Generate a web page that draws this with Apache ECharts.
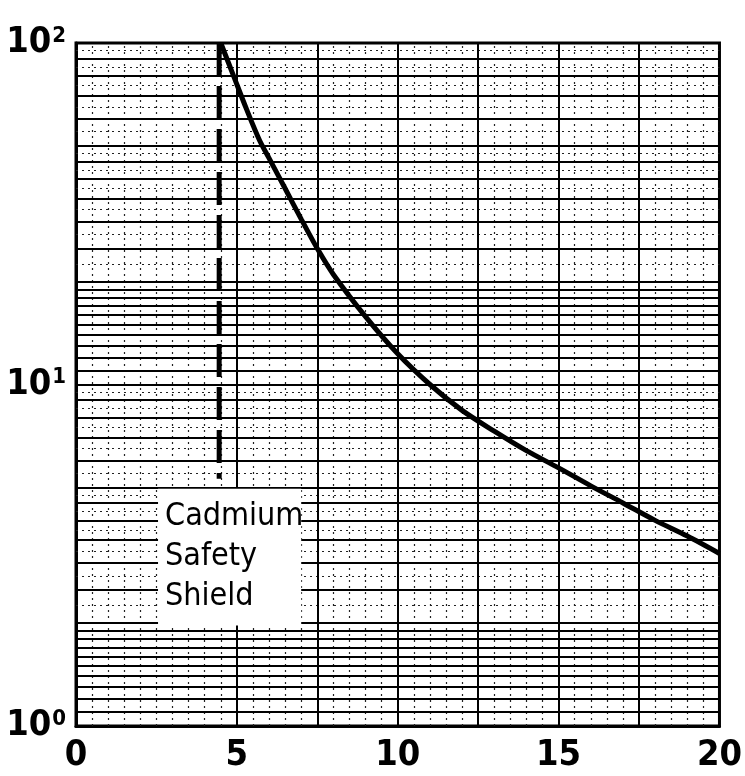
<!DOCTYPE html>
<html>
<head>
<meta charset="utf-8">
<script src="https://cdn.jsdelivr.net/npm/echarts@6/dist/echarts.min.js"></script>
<style>
html,body{margin:0;padding:0;background:#fff;}
#c{width:745px;height:776px;}
</style>
</head>
<body>
<div id="c"></div>
<script>
// ---- data ----
var curveX = [4.5, 4.9, 5.3, 5.7, 6, 6.5, 7, 7.5, 8, 9, 10, 11, 12, 13, 14, 15, 16, 17, 18, 19, 20];
var curveY = [100, 80, 64, 52, 46, 37.5, 30.5, 25, 21, 15.8, 12.3, 10, 8.4, 7.3, 6.4, 5.7, 5.05, 4.5, 4.0, 3.6, 3.2];
var shieldX = [4.45, 4.45];
var shieldY = [100, 5.3];
var xTicks = [0, 5, 10, 15, 20];
var yTicks = [1, 10, 100];
var yTickExp = ['0', '1', '2'];
var gridXSolid = [5, 7.5, 10, 12.5, 15, 17.5];
var gridXDotted = [0.5,1,1.5,2,2.5,3,3.5,4,4.5,5.5,6,6.5,7,8,8.5,9,9.5,10.5,11,11.5,12,13,13.5,14,14.5,15.5,16,16.5,17,18,18.5,19,19.5];
var gridYSolid = [1.1,1.2,1.3,1.4,1.5,1.6,1.7,1.8,1.9,2,2.5,3,3.5,4,4.5,5,6,7,8,9,10,
                  11,12,13,14,15,16,17,18,19,20,25,30,35,40,45,50,60,70,80,90];
var gridYDotted = [2.25,2.75,3.25,3.75,4.25,4.75,5.5,6.5,7.5,8.5,9.5,
                   22.5,27.5,32.5,37.5,42.5,47.5,55,65,75,85,95];
var noteLines = ['Cadmium', 'Safety', 'Shield'];
var noteBox = [[2.55, 4.95], [7.0, 1.97]];

var FONT = "'Liberation Sans Narrow','DejaVu Sans Condensed','Arial Narrow',sans-serif";

var chart = echarts.init(document.getElementById('c'), null, {renderer: 'canvas'});

function hLines(vals){ return vals.map(function(v){ return {yAxis: v}; }); }
function vLines(vals){ return vals.map(function(v){ return {xAxis: v}; }); }

var option = {
  animation: false,
  backgroundColor: '#fff',
  grid: {left: 76, right: 20, top: 43, bottom: 50, show: true, borderColor: '#000', borderWidth: 3, backgroundColor: '#fff'},
  xAxis: {
    type: 'value', min: 0, max: 20, interval: 5,
    axisLine: {show: true, lineStyle: {color: '#000', width: 3}},
    axisTick: {show: false},
    splitLine: {show: false},
    axisLabel: {color: '#000', fontFamily: FONT, fontWeight: 'bold', fontSize: 36, margin: 12,
      formatter: function(v){ return xTicks.indexOf(v) >= 0 ? String(v) : ''; }}
  },
  yAxis: {
    type: 'log', logBase: 10, min: 1, max: 100,
    axisLine: {show: true, lineStyle: {color: '#000', width: 3}},
    axisTick: {show: false},
    splitLine: {show: false},
    axisLabel: {
      margin: 10,
      formatter: function(v){
        var i = yTicks.indexOf(v);
        if (i < 0) return '';
        return '{b|10}{s|' + yTickExp[i] + '}';
      },
      rich: {
        b: {color: '#000', fontFamily: FONT, fontWeight: 'bold', fontSize: 36, verticalAlign: 'bottom'},
        s: {color: '#000', fontFamily: FONT, fontWeight: 'bold', fontSize: 22, verticalAlign: 'top', padding: [0,0,14,1]}
      }
    }
  },
  series: [
    {
      type: 'line', data: [], z: 1, silent: true,
      markLine: {silent: true, z: 1, symbol: ['none','none'], label: {show: false}, animation: false,
        lineStyle: {color: '#222', width: 1.2, type: [2, 4]},
        data: hLines(gridYDotted).concat(vLines(gridXDotted))}
    },
    {
      type: 'line', data: [], z: 2, silent: true,
      markLine: {silent: true, z: 2, symbol: ['none','none'], label: {show: false}, animation: false,
        lineStyle: {color: '#000', width: 2, type: 'solid'},
        data: hLines(gridYSolid).concat(vLines(gridXSolid))}
    },
    {
      type: 'line', data: [], z: 10, silent: true,
      markArea: {silent: true, z: 10, animation: false,
        itemStyle: {color: '#fff', opacity: 1},
        label: {show: true, position: 'insideLeft', distance: 7, color: '#000', fontFamily: FONT,
          fontSize: 32, lineHeight: 40, formatter: noteLines.join('\n')},
        data: [[{coord: noteBox[0]}, {coord: noteBox[1]}]]}
    },
    {
      type: 'line', z: 20, silent: true, symbol: 'none',
      data: shieldX.map(function(x, i){ return [x, shieldY[i]]; }),
      lineStyle: {color: '#000', width: 5, type: [33, 10]}
    },
    {
      type: 'line', z: 21, silent: true, symbol: 'none', smooth: 0.3,
      data: curveX.map(function(x, i){ return [x, curveY[i]]; }),
      lineStyle: {color: '#000', width: 5}
    }
  ]
};
chart.setOption(option);
</script>
</body>
</html>
